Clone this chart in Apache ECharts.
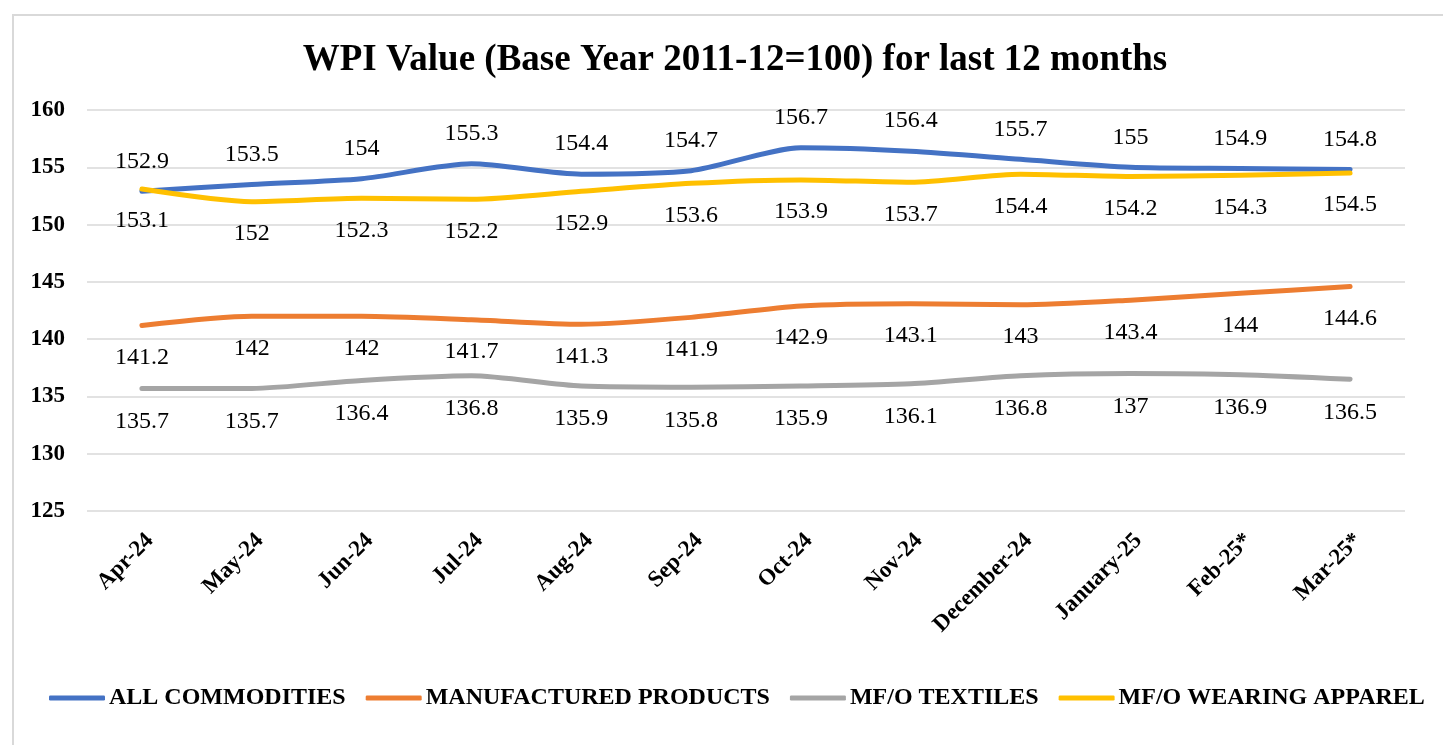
<!DOCTYPE html>
<html>
<head>
<meta charset="utf-8">
<script src="https://cdn.jsdelivr.net/npm/echarts@6/dist/echarts.min.js"></script>
<style>
	html, body { margin: 0; padding: 0; background: #fff; }
	.frame { position: absolute; left: 12px; top: 14px; right: -4px; bottom: -4px; border: 2px solid #d9d9d9; }
	.chart-wrapper { position: absolute; left: 0; top: 0; width: 1443px; height: 745px; }
</style>
</head>
<body>
<div class="frame"></div>
<div class="chart-wrapper" id="chart"></div>
<script>
	const months = ['Apr-24', 'May-24', 'Jun-24', 'Jul-24', 'Aug-24', 'Sep-24', 'Oct-24', 'Nov-24', 'December-24', 'January-25', 'Feb-25*', 'Mar-25*']
	const allCommodities = [152.9, 153.5, 154, 155.3, 154.4, 154.7, 156.7, 156.4, 155.7, 155, 154.9, 154.8]
	const manufactured = [141.2, 142, 142, 141.7, 141.3, 141.9, 142.9, 143.1, 143, 143.4, 144, 144.6]
	const textiles = [135.7, 135.7, 136.4, 136.8, 135.9, 135.8, 135.9, 136.1, 136.8, 137, 136.9, 136.5]
	const apparel = [153.1, 152, 152.3, 152.2, 152.9, 153.6, 153.9, 153.7, 154.4, 154.2, 154.3, 154.5]

	const serif = '"Liberation Serif", "Times New Roman", serif'

	function makeSeries(name, data, color, labelPos, dist) {
		return {
			name: name,
			type: 'line',
			data: data,
			smooth: 0.25,
			symbol: 'circle',
			symbolSize: 0.1,
			showSymbol: true,
			lineStyle: { color: color, width: 5, cap: 'round', join: 'round' },
			itemStyle: { color: color },
			label: {
				show: true,
				position: labelPos,
				distance: dist,
				color: '#000',
				fontFamily: serif,
				fontSize: 24
			},
			labelLayout: { hideOverlap: false },
			emphasis: { disabled: true }
		}
	}

	const chart = echarts.init(document.getElementById('chart'), null, { renderer: 'canvas' })

	chart.setOption({
		animation: false,
		title: {
			text: 'WPI Value (Base Year 2011-12=100) for last 12 months',
			left: 730,
			top: 37,
			textAlign: 'center',
			textStyle: {
				fontFamily: serif,
				fontWeight: 'bold',
				fontSize: 37,
				color: '#000'
			}
		},
		legend: {
			bottom: 30,
			left: 44,
			itemWidth: 56,
			itemHeight: 5,
			itemGap: 20,
			icon: 'roundRect',
			textStyle: {
				fontFamily: serif,
				fontWeight: 'bold',
				fontSize: 24,
				color: '#000',
				padding: [0, 0, 0, -1]
			},
			data: ['ALL COMMODITIES', 'MANUFACTURED PRODUCTS', 'MF/O TEXTILES', 'MF/O WEARING APPAREL']
		},
		grid: {
			left: 87,
			right: 38,
			top: 110,
			bottom: 234,
			containLabel: false
		},
		xAxis: {
			type: 'category',
			data: months,
			boundaryGap: true,
			axisLine: { show: false },
			axisTick: { show: false },
			axisLabel: {
				rotate: 45,
				interval: 0,
				margin: 18,
				verticalAlign: 'top',
				color: '#000',
				fontFamily: serif,
				fontWeight: 'bold',
				fontSize: 23
			}
		},
		yAxis: {
			type: 'value',
			min: 125,
			max: 160,
			interval: 5,
			axisLine: { show: false },
			axisTick: { show: false },
			axisLabel: {
				margin: 22,
				color: '#000',
				fontFamily: serif,
				fontWeight: 'bold',
				fontSize: 23
			},
			splitLine: {
				lineStyle: { color: '#d9d9d9', width: 1.5 }
			}
		},
		series: [
			makeSeries('ALL COMMODITIES', allCommodities, '#4472C4', 'top', 18),
			makeSeries('MANUFACTURED PRODUCTS', manufactured, '#ED7D31', 'bottom', 20),
			makeSeries('MF/O TEXTILES', textiles, '#A5A5A5', 'bottom', 21),
			makeSeries('MF/O WEARING APPAREL', apparel, '#FFC000', 'bottom', 20)
		]
	})

	window.addEventListener('resize', () => {
		chart.resize()
	})
</script>
</body>
</html>
